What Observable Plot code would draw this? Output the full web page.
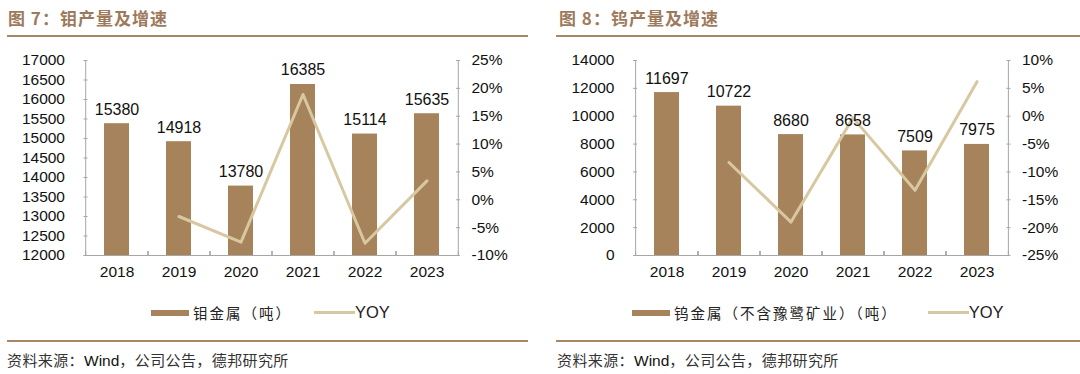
<!DOCTYPE html>
<html><head><meta charset="utf-8">
<script src="https://cdn.jsdelivr.net/npm/d3@7"></script>
<script src="https://cdn.jsdelivr.net/npm/@observablehq/plot@0.6"></script>
<style>
html,body{margin:0;padding:0;background:#fff;}
#root{position:relative;width:1080px;height:374px;overflow:hidden;font-family:"Liberation Sans",Arial,sans-serif;}
.title{position:absolute;top:5px;font-family:"Noto Sans CJK SC",sans-serif;font-weight:700;font-size:17px;color:#9E7A5C;letter-spacing:1px;}
.rule{position:absolute;height:2px;background:#A98766;}
.chart{position:absolute;top:40px;}
.legend{position:absolute;top:302px;display:flex;align-items:center;font-size:14.5px;color:#222;font-family:"Noto Sans CJK SC","Liberation Sans",sans-serif;letter-spacing:2px;}
.legend .sw{width:38px;height:6px;background:#A6835B;margin-right:4px;}
.legend .ln{width:41px;height:3px;background:#D8C8A2;}
.legend .yoy{font-family:"Liberation Sans",Arial,sans-serif;font-size:16.5px;letter-spacing:0;}
.source{position:absolute;top:349px;font-size:15px;color:#333;font-family:"Noto Sans CJK SC",sans-serif;letter-spacing:0.4px;}
.source .w{font-family:"Liberation Sans",Arial,sans-serif;font-size:15.5px;color:#111;letter-spacing:0;}
</style></head>
<body><div id="root">
<div class="title" style="left:8px">图 7：钼产量及增速</div>
<div class="rule" style="left:7px;width:521px;top:35px"></div>
<div class="chart" id="c1" style="left:0px"></div>
<div class="legend" style="left:151px"><div class="sw"></div><span>钼金属（吨）</span><div class="ln" style="margin-left:22px"></div><span class="yoy">YOY</span></div>
<div class="rule" style="left:7px;width:521px;top:340px"></div>
<div class="source" style="left:7px">资料来源：<span class="w">Wind</span>，公司公告，德邦研究所</div>

<div class="title" style="left:559px">图 8：钨产量及增速</div>
<div class="rule" style="left:556px;width:524px;top:35px"></div>
<div class="chart" id="c2" style="left:540px"></div>
<div class="legend" style="left:632px"><div class="sw"></div><span>钨金属（不含豫鹭矿业）（吨）</span><div class="ln" style="margin-left:30px"></div><span class="yoy">YOY</span></div>
<div class="rule" style="left:556px;width:524px;top:340px"></div>
<div class="source" style="left:557px">资料来源：<span class="w">Wind</span>，公司公告，德邦研究所</div>
</div>
<script>
const years = ["2018","2019","2020","2021","2022","2023"];
const moValues = [15380, 14918, 13780, 16385, 15114, 15635];
const moYoy = [null, -3.0, -7.6, 18.9, -7.8, 3.4];
const moLeftTicks = [12000,12500,13000,13500,14000,14500,15000,15500,16000,16500,17000];
const moPctTicks = [-10,-5,0,5,10,15,20,25];
const wValues = [11697, 10722, 8680, 8658, 7509, 7975];
const wYoy = [null, -8.3, -19.0, -0.3, -13.3, 6.2];
const wLeftTicks = [0,2000,4000,6000,8000,10000,12000,14000];
const wPctTicks = [-25,-20,-15,-10,-5,0,5,10];

const BAR = "#A6835B", LINE = "#D8C8A2", AXIS = "#A6A6A6";
const FS = 15.5;
const blank = () => "";

function makeChart(values, yoy, leftTicks, pctTicks, m) {
  const y0 = leftTicks[0], y1 = leftTicks[leftTicks.length-1];
  const p0 = pctTicks[0], p1 = pctTicks[pctTicks.length-1];
  const toLeft = p => y0 + (p - p0) / (p1 - p0) * (y1 - y0);
  const fromLeft = v => p0 + (v - y0) / (y1 - y0) * (p1 - p0);
  const data = years.map((yr, i) => ({year: yr, value: values[i], yoy: yoy[i]}));
  const lineData = data.filter(d => d.yoy != null);
  const width = 540, height = 250;
  const step = (width - m.left - m.right) / years.length;
  const pct = pctTicks.map(toLeft);
  return Plot.plot({
    width, height,
    marginLeft: m.left, marginRight: m.right, marginTop: m.top, marginBottom: m.bottom,
    style: {fontFamily: '"Liberation Sans", Arial, sans-serif', fontSize: FS + "px", color: "#111", background: "#fff", overflow: "visible"},
    x: {domain: years, paddingInner: 0.59, paddingOuter: 0.295, label: null},
    y: {domain: [y0, y1], label: null},
    marks: [
      Plot.barY(data, {x: "year", y1: y0, y2: "value", fill: BAR}),
      Plot.line(lineData, {x: "year", y: d => toLeft(d.yoy), stroke: LINE, strokeWidth: 3}),
      Plot.text(data, {x: "year", y: "value", text: d => String(d.value), lineAnchor: "bottom", dy: -9, fontSize: 16, fill: "#111"}),
      Plot.ruleY([y0], {stroke: AXIS}),
      Plot.ruleX([years[0]], {y1: y0, y2: y1, dx: -step/2, stroke: AXIS}),
      Plot.ruleX([years[years.length-1]], {y1: y0, y2: y1, dx: step/2, stroke: AXIS}),
      Plot.axisY(leftTicks, {anchor: "left", tickSize: 4, dx: 4, tickFormat: blank, stroke: AXIS, label: null}),
      Plot.axisY(leftTicks, {anchor: "left", tickSize: 0, tickPadding: 19, fontSize: FS, tickFormat: d => String(d), label: null}),
      Plot.axisY(pct, {anchor: "right", tickSize: 4, dx: -4, tickFormat: blank, stroke: AXIS, label: null}),
      Plot.axisY(pct, {anchor: "right", tickSize: 0, tickPadding: 12, fontSize: FS, tickFormat: v => Math.round(fromLeft(v)) + "%", label: null}),
      Plot.axisX({anchor: "bottom", tickSize: 0, tickPadding: 10, fontSize: FS, label: null}),
      Plot.axisX({anchor: "bottom", tickSize: 4, dy: -4, tickFormat: blank, dx: -step/2, stroke: AXIS, label: null}),
      Plot.axisX({anchor: "bottom", tickSize: 4, dy: -4, tickFormat: blank, dx: step/2, stroke: AXIS, label: null})
    ]
  });
}

document.getElementById("c1").appendChild(makeChart(moValues, moYoy, moLeftTicks, moPctTicks, {left: 83.5, right: 81, top: 20, bottom: 35}));
document.getElementById("c2").appendChild(makeChart(wValues, wYoy, wLeftTicks, wPctTicks, {left: 93, right: 70.5, top: 20, bottom: 35}));
</script>
</body></html>
